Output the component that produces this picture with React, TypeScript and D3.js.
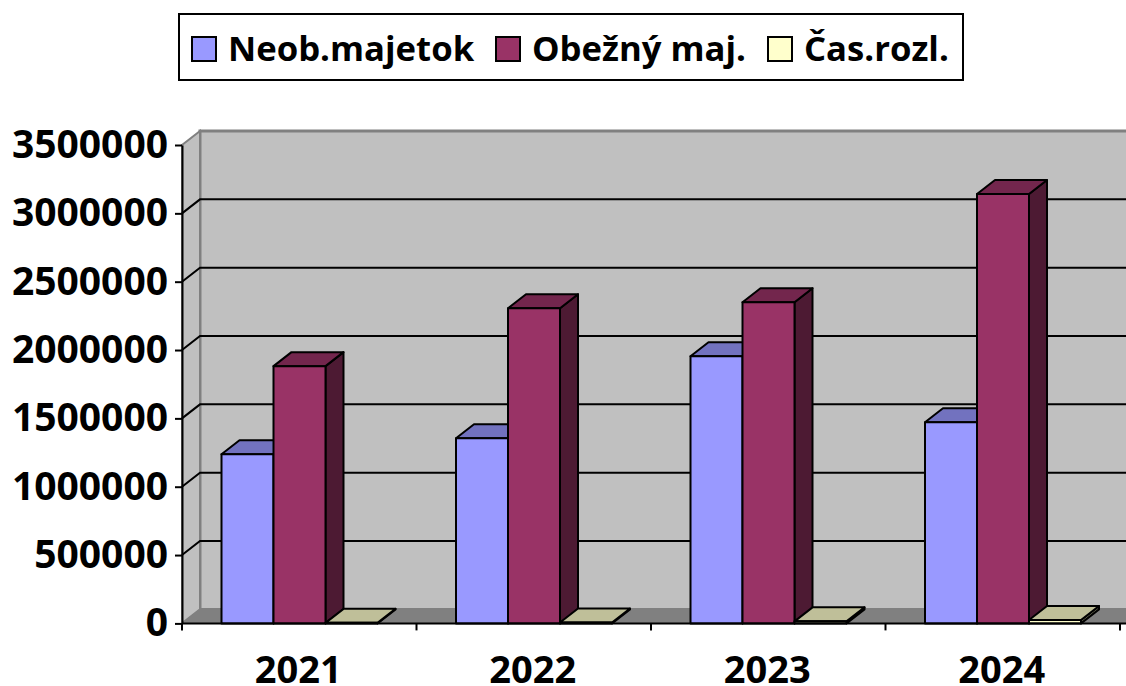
import React, { useEffect, useRef } from 'react';
import * as d3 from 'd3';

const years = ['2021', '2022', '2023', '2024'];
const seriesNames = ['Neob.majetok', 'Obežný maj.', 'Čas.rozl.'];
const neobMajetok = [1237000, 1355000, 1955000, 1472000];
const obeznyMaj = [1882000, 2306000, 2350000, 3141000];
const casRozl = [4000, 6000, 15000, 25000];
const yTicks = [0, 500000, 1000000, 1500000, 2000000, 2500000, 3000000, 3500000];
const seriesValues = [neobMajetok, obeznyMaj, casRozl];

const fronts = ['#9999ff', '#993366', '#ffffcc'];
const tops = ['#7272bf', '#73264d', '#bfbf99'];
const sides = ['#4c4c80', '#4d1a33', '#808066'];
const legendSwatchX = [192, 496, 768];
const legendTextX = [228, 532, 804];

const font = '"Open Sans", sans-serif';
const depthX = 18;
const depthY = 14;

const App = () => {
  const ref = useRef<SVGSVGElement>(null);

  useEffect(() => {
    const svg = d3.select(ref.current);
    svg.selectAll('*').remove();

    const y = d3.scaleLinear().domain([0, 3500000]).range([623.4, 145]);
    const x0 = d3.scaleBand().domain(years).range([182, 1120]);
    const x1 = d3.scaleBand().domain(seriesNames).range([39.5, 195.5]);
    const left = x0.range()[0];
    const floorY = y(0);
    const topY = y(3500000);
    const right = 1140;

    const poly = (pts: number[][]) => pts.map((p) => p.join(',')).join(' ');

    // walls and floor
    svg.append('polygon')
      .attr('points', poly([[left + depthX, topY - depthY], [right, topY - depthY], [right, floorY - depthY], [left + depthX, floorY - depthY]]))
      .attr('fill', '#c0c0c0').attr('stroke', '#808080').attr('stroke-width', 3);
    svg.append('polygon')
      .attr('points', poly([[left, topY], [left + depthX, topY - depthY], [left + depthX, floorY - depthY], [left, floorY]]))
      .attr('fill', '#c0c0c0').attr('stroke', '#808080').attr('stroke-width', 2);
    svg.append('polygon')
      .attr('points', poly([[left, floorY], [left + depthX, floorY - depthY], [right, floorY - depthY], [right, floorY]]))
      .attr('fill', '#808080').attr('stroke', '#808080').attr('stroke-width', 1);

    // gridlines, running across the side wall and the back wall
    yTicks.filter((t) => t > 0 && t < 3500000).forEach((t) => {
      svg.append('polyline')
        .attr('points', poly([[left, y(t)], [left + depthX, y(t) - depthY], [right, y(t) - depthY]]))
        .attr('fill', 'none').attr('stroke', '#000').attr('stroke-width', 2);
    });

    // bars
    years.forEach((yr, i) => {
      seriesNames.forEach((name, s) => {
        const bx = x0(yr)! + x1(name)!;
        const bw = x1.bandwidth();
        const by = y(seriesValues[s][i]);
        const g = svg.append('g').attr('stroke', '#000').attr('stroke-width', 2).attr('stroke-linejoin', 'round');
        g.append('polygon')
          .attr('points', poly([[bx + bw, by], [bx + bw + depthX, by - depthY], [bx + bw + depthX, floorY - depthY], [bx + bw, floorY]]))
          .attr('fill', sides[s]);
        g.append('polygon')
          .attr('points', poly([[bx, by], [bx + depthX, by - depthY], [bx + bw + depthX, by - depthY], [bx + bw, by]]))
          .attr('fill', tops[s]);
        g.append('rect')
          .attr('x', bx).attr('y', by).attr('width', bw).attr('height', floorY - by)
          .attr('fill', fronts[s]);
      });
    });

    // y axis
    const yAxis = svg.append('g')
      .attr('transform', `translate(${left},0)`)
      .call(d3.axisLeft(y).tickValues(yTicks).tickFormat(d3.format('d') as any).tickSize(7).tickSizeOuter(0).tickPadding(7));
    yAxis.selectAll('line').attr('stroke', '#000').attr('stroke-width', 2);
    yAxis.select('.domain').attr('stroke', '#000').attr('stroke-width', 2);
    yAxis.selectAll('text')
      .attr('font-family', font).attr('font-size', 39).attr('font-weight', 700).attr('fill', '#000');

    // x axis: ticks sit on the band edges, labels in the band centres
    svg.append('line')
      .attr('x1', left).attr('x2', right).attr('y1', floorY).attr('y2', floorY)
      .attr('stroke', '#000').attr('stroke-width', 2);
    [...years.map((yr) => x0(yr)!), x0.range()[1]].forEach((tx) => {
      svg.append('line')
        .attr('x1', tx).attr('x2', tx).attr('y1', floorY).attr('y2', floorY + 7)
        .attr('stroke', '#000').attr('stroke-width', 2);
    });
    years.forEach((yr) => {
      svg.append('text')
        .attr('x', x0(yr)! + x0.bandwidth() / 2 - 1).attr('y', 683)
        .attr('text-anchor', 'middle')
        .attr('font-family', font).attr('font-size', 38).attr('font-weight', 700)
        .text(yr);
    });

    // legend
    svg.append('rect')
      .attr('x', 179).attr('y', 14).attr('width', 784).attr('height', 66)
      .attr('fill', '#fff').attr('stroke', '#000').attr('stroke-width', 2);
    seriesNames.forEach((name, s) => {
      svg.append('rect')
        .attr('x', legendSwatchX[s]).attr('y', 37).attr('width', 24).attr('height', 24)
        .attr('fill', fronts[s]).attr('stroke', '#000').attr('stroke-width', 2);
      svg.append('text')
        .attr('x', legendTextX[s]).attr('y', 61)
        .attr('font-family', font).attr('font-size', 34.7).attr('font-weight', 700)
        .text(name);
    });
  }, []);

  return (
    <svg
      ref={ref}
      width={1126}
      height={686}
      style={{ position: 'absolute', left: 0, top: 0, background: '#fff', display: 'block' }}
    />
  );
};

export default App;
